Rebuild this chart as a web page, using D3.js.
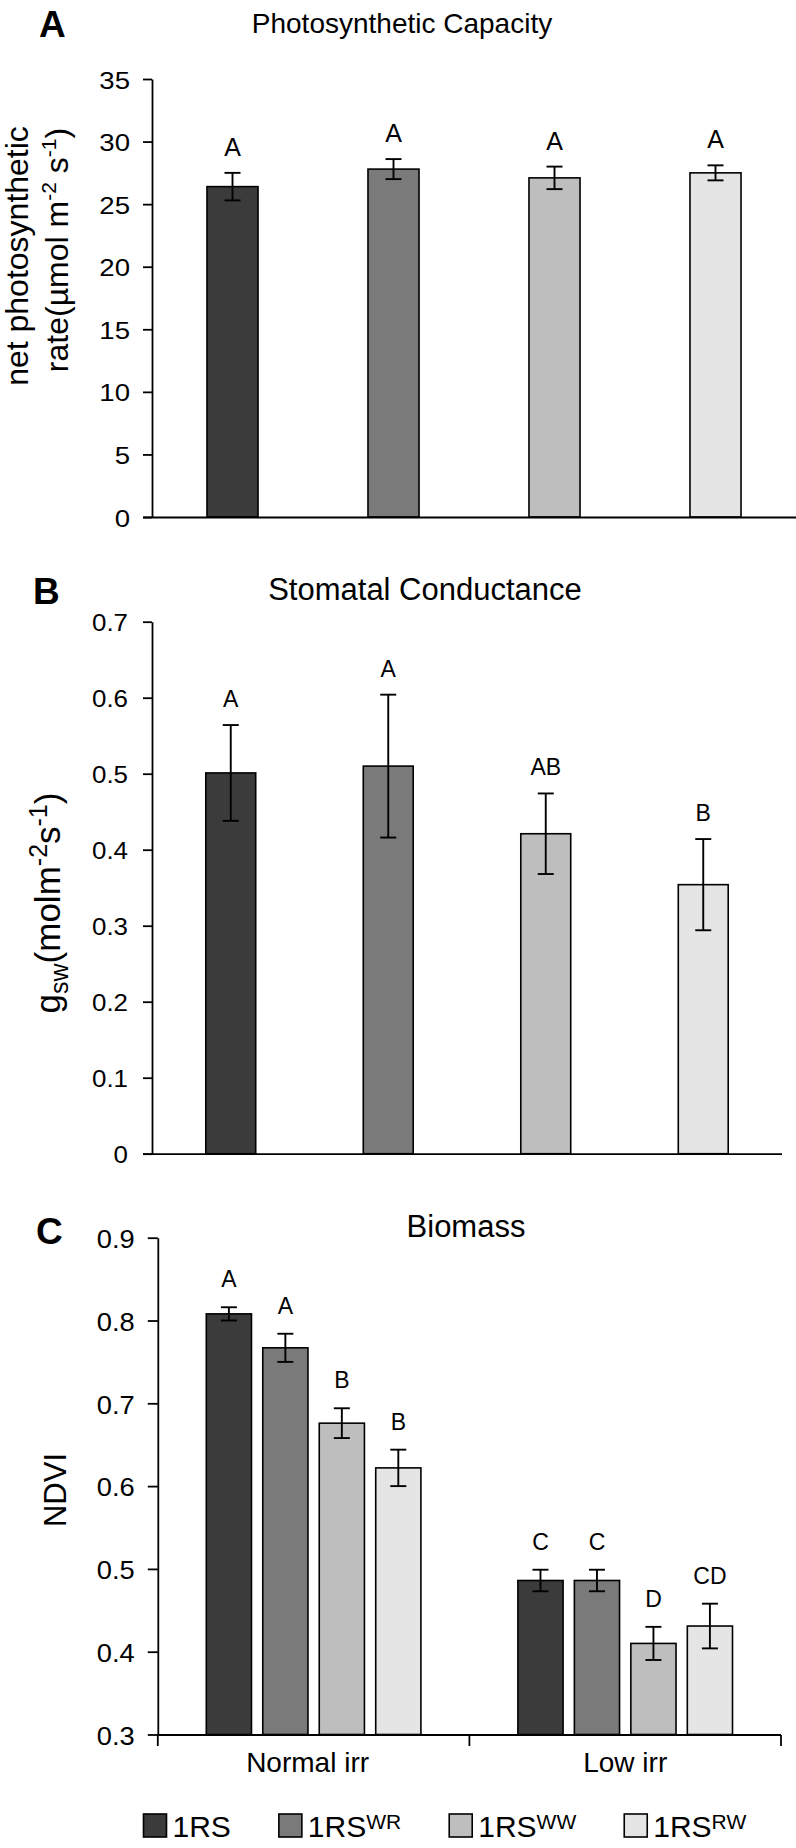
<!DOCTYPE html>
<html>
<head>
<meta charset="utf-8">
<script src="https://cdn.jsdelivr.net/npm/d3@7/dist/d3.min.js"></script>
<style>
html,body{margin:0;padding:0;background:#fff;}
svg{display:block;}
text{font-family:"Liberation Sans",Arial,Helvetica,sans-serif;fill:#000;}
</style>
</head>
<body>
<svg id="chart" width="796" height="1848"></svg>
<script>
// ---------------- data ----------------
const genotypes = ["1RS", "1RS-WR", "1RS-WW", "1RS-RW"];
const genotypeBase = ["1RS", "1RS", "1RS", "1RS"];
const genotypeSup = ["", "WR", "WW", "RW"];
const genotypeColors = ["#3b3b3b", "#7a7a7a", "#bebebe", "#e5e5e5"];

const photoTitle = "Photosynthetic Capacity";
const photoMeans = [26.4, 27.8, 27.1, 27.5];
const photoErrors = [1.1, 0.8, 0.9, 0.6];
const photoLetters = ["A", "A", "A", "A"];
const photoTicks = [0, 5, 10, 15, 20, 25, 30, 35];

const gswTitle = "Stomatal Conductance";
const gswMeans = [0.501, 0.510, 0.421, 0.354];
const gswErrors = [0.063, 0.094, 0.053, 0.060];
const gswLetters = ["A", "A", "AB", "B"];
const gswTicks = [0, 0.1, 0.2, 0.3, 0.4, 0.5, 0.6, 0.7];

const ndviTitle = "Biomass";
const irrigation = ["Normal irr", "Low irr"];
const ndviNormalMeans = [0.808, 0.767, 0.676, 0.622];
const ndviNormalErrors = [0.008, 0.017, 0.018, 0.022];
const ndviNormalLetters = ["A", "A", "B", "B"];
const ndviLowMeans = [0.486, 0.486, 0.410, 0.431];
const ndviLowErrors = [0.013, 0.013, 0.020, 0.027];
const ndviLowLetters = ["C", "C", "D", "CD"];
const ndviTicks = [0.3, 0.4, 0.5, 0.6, 0.7, 0.8, 0.9];

// ---------------- drawing ----------------
const svg = d3.select("#chart");
const AXW = 1.8;
const TICK = 9;
const CAP = 8;

function styleAxis(g, fontSize, sx, pad) {
  g.attr("font-family", null).attr("font-size", null);
  g.selectAll("path, line").attr("stroke", "#000").attr("stroke-width", AXW);
  g.selectAll("text")
    .attr("font-size", fontSize)
    .attr("x", -(TICK + pad) / sx)
    .attr("dy", "0.38em")
    .attr("transform", `scale(${sx},1)`);
}

function errorBars(g, rows, cx, y) {
  const eb = g.selectAll(".err").data(rows).join("g").attr("class", "err")
    .attr("stroke", "#000").attr("stroke-width", 1.9);
  eb.append("line").attr("x1", cx).attr("x2", cx)
    .attr("y1", d => y(d.m + d.e)).attr("y2", d => y(d.m - d.e));
  eb.append("line").attr("x1", d => cx(d) - CAP).attr("x2", d => cx(d) + CAP)
    .attr("y1", d => y(d.m + d.e)).attr("y2", d => y(d.m + d.e));
  eb.append("line").attr("x1", d => cx(d) - CAP).attr("x2", d => cx(d) + CAP)
    .attr("y1", d => y(d.m - d.e)).attr("y2", d => y(d.m - d.e));
}

function simplePanel(o) {
  const x = d3.scaleBand().domain(genotypes).range([o.left, o.right])
    .paddingInner(o.pad).paddingOuter(o.pad / 2);
  const y = d3.scaleLinear().domain([o.ticks[0], o.ticks[o.ticks.length - 1]])
    .range([o.bottom, o.top]);
  const g = svg.append("g");
  const rows = genotypes.map((k, i) => ({ k, i, m: o.means[i], e: o.errors[i], l: o.letters[i] }));

  g.selectAll(".bar").data(rows).join("rect").attr("class", "bar")
    .attr("x", d => x(d.k)).attr("width", x.bandwidth())
    .attr("y", d => y(d.m)).attr("height", d => y(o.ticks[0]) - y(d.m))
    .attr("fill", d => genotypeColors[d.i]).attr("stroke", "#000").attr("stroke-width", 1.6);

  const cx = d => x(d.k) + x.bandwidth() / 2;
  errorBars(g, rows, cx, y);

  g.selectAll(".let").data(rows).join("text").attr("class", "let")
    .attr("x", cx).attr("y", d => y(d.m + d.e) - o.letterGap)
    .attr("text-anchor", "middle").attr("font-size", o.letterSize)
    .text(d => d.l);

  // x baseline
  g.append("line").attr("x1", o.left - TICK).attr("x2", o.right)
    .attr("y1", y(o.ticks[0]) + 0.5).attr("y2", y(o.ticks[0]) + 0.5)
    .attr("stroke", "#000").attr("stroke-width", AXW);

  const ya = g.append("g").attr("transform", `translate(${o.left},0)`)
    .call(d3.axisLeft(y).tickValues(o.ticks).tickSize(TICK).tickSizeOuter(0).tickFormat(o.fmt));
  styleAxis(ya, o.tickSize, o.tickSx, o.tickPad);
  return { x, y };
}

// Panel A
simplePanel({
  left: 152, right: 796, top: 79, bottom: 517, pad: 0.683,
  ticks: photoTicks, means: photoMeans, errors: photoErrors, letters: photoLetters,
  fmt: d3.format("d"), tickSize: 24, tickSx: 1.15, tickPad: 13,
  letterSize: 25, letterGap: 17
});

// Panel B
simplePanel({
  left: 152, right: 782, top: 621.7, bottom: 1153.7, pad: 0.683,
  ticks: gswTicks, means: gswMeans, errors: gswErrors, letters: gswLetters,
  fmt: d => d === 0 ? "0" : d3.format(".1f")(d), tickSize: 24, tickSx: 1.08, tickPad: 15,
  letterSize: 23, letterGap: 18
});

// Panel C (grouped)
(function () {
  const left = 157.8, right = 781, top = 1237.7, bottom = 1734.5;
  const x0 = d3.scaleBand().domain(irrigation).range([left, right])
    .paddingInner(0.275).paddingOuter(0.1375);
  const x1 = d3.scaleBand().domain(genotypes).range([0, x0.bandwidth()])
    .paddingInner(0.2).paddingOuter(0.1);
  const y = d3.scaleLinear().domain([ndviTicks[0], ndviTicks[ndviTicks.length - 1]]).range([bottom, top]);
  const g = svg.append("g");
  const sets = [
    { grp: irrigation[0], means: ndviNormalMeans, errs: ndviNormalErrors, lets: ndviNormalLetters },
    { grp: irrigation[1], means: ndviLowMeans, errs: ndviLowErrors, lets: ndviLowLetters }
  ];
  const rows = [];
  sets.forEach(s => genotypes.forEach((k, i) => rows.push({ grp: s.grp, k, i, m: s.means[i], e: s.errs[i], l: s.lets[i] })));

  g.selectAll(".bar").data(rows).join("rect").attr("class", "bar")
    .attr("x", d => x0(d.grp) + x1(d.k)).attr("width", x1.bandwidth())
    .attr("y", d => y(d.m)).attr("height", d => y(ndviTicks[0]) - y(d.m))
    .attr("fill", d => genotypeColors[d.i]).attr("stroke", "#000").attr("stroke-width", 1.6);

  const cx = d => x0(d.grp) + x1(d.k) + x1.bandwidth() / 2;
  errorBars(g, rows, cx, y);

  g.selectAll(".let").data(rows).join("text").attr("class", "let")
    .attr("x", cx).attr("y", d => y(d.m + d.e) - 20)
    .attr("text-anchor", "middle").attr("font-size", 23)
    .text(d => d.l);

  // x axis with category boundary ticks
  const yb = y(ndviTicks[0]) + 0.5;
  g.append("line").attr("x1", left).attr("x2", right).attr("y1", yb).attr("y2", yb)
    .attr("stroke", "#000").attr("stroke-width", AXW);
  const bounds = [left].concat(irrigation.map(c => x0(c) + x0.bandwidth() / 2 + x0.step() / 2));
  g.selectAll(".xt").data(bounds).join("line").attr("class", "xt")
    .attr("x1", d => d).attr("x2", d => d).attr("y1", yb).attr("y2", yb + 11)
    .attr("stroke", "#000").attr("stroke-width", AXW);
  g.selectAll(".grp").data(irrigation).join("text").attr("class", "grp")
    .attr("x", d => x0(d) + x0.bandwidth() / 2 - (d === irrigation[0] ? 6 : 0)).attr("y", 1772)
    .attr("text-anchor", "middle").attr("font-size", 28).text(d => d);

  const ya = g.append("g").attr("transform", `translate(${left},0)`)
    .call(d3.axisLeft(y).tickValues(ndviTicks).tickSize(TICK + 1).tickSizeOuter(0).tickFormat(d3.format(".1f")));
  styleAxis(ya, 26, 1.05, 14);

  // legend
  const lg = svg.append("g");
  let lx = 143.5;
  const sw = 23, ly = 1814;
  genotypes.forEach((k, i) => {
    lg.append("rect").attr("x", lx).attr("y", ly).attr("width", sw).attr("height", sw)
      .attr("fill", genotypeColors[i]).attr("stroke", "#000").attr("stroke-width", 1.6);
    const t = lg.append("text").attr("x", lx + sw + 6).attr("y", ly + sw).attr("font-size", 30);
    t.append("tspan").text(genotypeBase[i]);
    if (genotypeSup[i]) t.append("tspan").attr("font-size", 21).attr("dy", -8).text(genotypeSup[i]);
    const w = t.node().getComputedTextLength();
    lx = lx + sw + 6 + w + 48;
  });
})();

// ---------------- titles and labels ----------------
const labels = svg.append("g");
labels.append("text").attr("x", 39).attr("y", 37).attr("font-size", 37).attr("font-weight", "bold").text("A");
labels.append("text").attr("x", 33).attr("y", 604).attr("font-size", 37).attr("font-weight", "bold").text("B");
labels.append("text").attr("x", 36).attr("y", 1244).attr("font-size", 37).attr("font-weight", "bold").text("C");

labels.append("text").attr("x", 402).attr("y", 33).attr("text-anchor", "middle").attr("font-size", 28).text(photoTitle);
labels.append("text").attr("x", 425).attr("y", 600).attr("text-anchor", "middle").attr("font-size", 31).text(gswTitle);
labels.append("text").attr("x", 466).attr("y", 1237).attr("text-anchor", "middle").attr("font-size", 31).text(ndviTitle);

// Y label A (two lines)
labels.append("text").attr("transform", "translate(28,256) rotate(-90)")
  .attr("text-anchor", "middle").attr("font-size", 32).text("net photosynthetic");
const ylA2 = labels.append("text").attr("transform", "translate(68,250) rotate(-90)")
  .attr("text-anchor", "middle").attr("font-size", 32);
ylA2.append("tspan").text("rate(\u00b5mol m");
ylA2.append("tspan").attr("font-size", 21).attr("dy", -12).text("-2");
ylA2.append("tspan").attr("dy", 12).text(" s");
ylA2.append("tspan").attr("font-size", 21).attr("dy", -12).text("-1");
ylA2.append("tspan").attr("dy", 12).text(")");

// Y label B
const ylB = labels.append("text").attr("transform", "translate(60,903) rotate(-90)")
  .attr("text-anchor", "middle").attr("font-size", 35);
ylB.append("tspan").text("g");
ylB.append("tspan").attr("font-size", 25).attr("dy", 8).text("sw");
ylB.append("tspan").attr("dy", -8).text("(molm");
ylB.append("tspan").attr("font-size", 25).attr("dy", -13).text("-2");
ylB.append("tspan").attr("dy", 13).text("s");
ylB.append("tspan").attr("font-size", 25).attr("dy", -13).text("-1");
ylB.append("tspan").attr("dy", 13).text(")");

// Y label C
labels.append("text").attr("transform", "translate(66,1490) rotate(-90)")
  .attr("text-anchor", "middle").attr("font-size", 31).text("NDVI");
</script>
</body>
</html>
